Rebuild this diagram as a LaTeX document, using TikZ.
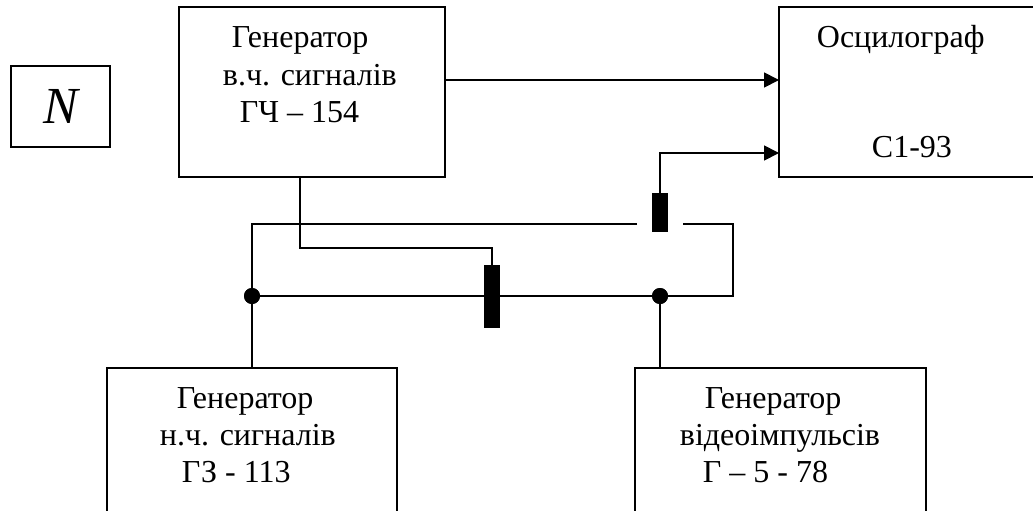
\documentclass[tikz,border=0pt]{standalone}
\usepackage{fontspec}
\setmainfont{Liberation Serif}
\usetikzlibrary{arrows.meta}
\begin{document}
\begin{tikzpicture}[x=1pt,y=-1pt,line width=1.8pt,
  box/.style={draw,line width=1.8pt,anchor=north west,inner sep=0pt,outer sep=0pt},
  lbl/.style={anchor=base west,inner sep=0pt,font=\fontsize{32}{38}\selectfont},
  res/.style={fill=black,draw=none,minimum width=16pt,inner sep=0pt,outer sep=0pt},
  dot/.style={circle,fill=black,minimum size=16pt,inner sep=0pt},
  arr/.style={-{Triangle[length=15pt,width=15pt]}}]
\clip (0,0) rectangle (1033,511);
\fill[white] (0,0) rectangle (1033,511);
% boxes
\node[box,minimum width=99pt,minimum height=81pt] (nb) at (11,66) {};
\node[anchor=base,inner sep=0pt,font=\itshape\fontsize{52}{60}\selectfont] (nt) at (61,123) {N};
\node[box,minimum width=266pt,minimum height=170pt] (gen) at (179,7) {};
\node[box,minimum width=300pt,minimum height=170pt] (osc) at (779,7) {};
\node[box,minimum width=290pt,minimum height=200pt] (gl) at (107,368) {};
\node[box,minimum width=291pt,minimum height=200pt] (gv) at (635,368) {};
% labels
\node[lbl] (g1) at (231,48) {Генератор};
\node[lbl] (g2) at (222,85) {в.ч. сигналів};
\node[lbl] (g3) at (239,122) {ГЧ – 154};
\node[lbl] (o1) at (816,48) {Осцилограф};
\node[lbl] (o2) at (871,157) {С1-93};
\node[lbl] (l1) at (176,408) {Генератор};
\node[lbl] (l2) at (159,445) {н.ч. сигналів};
\node[lbl] (l3) at (181,482) {ГЗ - 113};
\node[lbl] (v1) at (704,408) {Генератор};
\node[lbl] (v2) at (679,445) {відеоімпульсів};
\node[lbl] (v3) at (702,482) {Г – 5 - 78};
% junctions and resistors
\node[dot] (j1) at (252,296) {};
\node[dot] (j2) at (660,296) {};
\node[res,minimum height=63pt] (r1) at (492,296) {};
\node[res,minimum height=39pt] (r2) at (660,212.5) {};
\coordinate (c1) at (252,224);
\coordinate (c2) at (637,224);
\coordinate (c3) at (683,224);
\coordinate (c4) at (733,224);
\coordinate (c5) at (733,296);
% connectors
\draw[arr] ([yshift=12pt]gen.east) -- ([yshift=12pt]osc.west);
\draw[arr] (r2.north) |- ([yshift=-61pt]osc.west);
\draw ([xshift=-12pt]gen.south) -- ++(0,71) -| (r1.north);
\draw (c2) -- (c1) -- (j1.center) -- (gl.north);
\draw (j1.center) -- (r1.west);
\draw (r1.east) -- (j2.center) -- (c5) -- (c4) -- (c3);
\draw (j2.center) -- (j2 |- gv.north);
\node[dot] at (j1) {};
\node[dot] at (j2) {};
\node[res,minimum height=63pt] at (r1) {};
\end{tikzpicture}
\end{document}
